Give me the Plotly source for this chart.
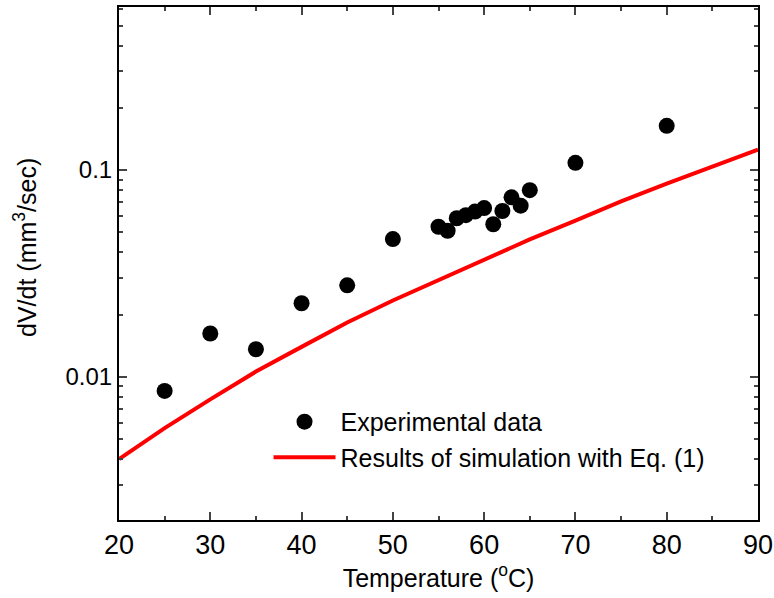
import math
import plotly.graph_objects as go

# Experimental data
exp_T = [25, 30, 35, 40, 45, 50, 55, 56, 57, 58, 59, 60, 61, 62, 63, 64, 65, 70, 80]
exp_rate = [0.00855, 0.0162, 0.0136, 0.0227, 0.0277, 0.0464, 0.0532, 0.0509, 0.0585,
            0.0605, 0.0630, 0.0655, 0.0547, 0.0634, 0.0738, 0.0673, 0.0800, 0.1084, 0.1637]

# Simulation results
sim_T = [20, 25, 30, 35, 40, 45, 50, 55, 60, 65, 70, 75, 80, 85, 90]
sim_rate = [0.0040, 0.00565, 0.00778, 0.0106, 0.01396, 0.0183, 0.0234, 0.0294, 0.0371,
            0.0462, 0.0569, 0.0706, 0.0859, 0.1038, 0.1257]

x_ticks = [20, 30, 40, 50, 60, 70, 80, 90]
y_ticks = [0.01, 0.1]
y_tick_text = ["0.01", "0.1"]

x_title = "Temperature (<sup>o</sup>C)"
y_title = "dV/dt (mm<sup>3</sup>/sec)"

FONT = "Arial, Liberation Sans, sans-serif"

fig = go.Figure()
fig.add_trace(go.Scatter(
    x=exp_T, y=exp_rate, mode="markers", name="Experimental data",
    marker=dict(color="black", size=16, line=dict(width=0)),
))
fig.add_trace(go.Scatter(
    x=sim_T, y=sim_rate, mode="lines", name="Results of simulation with Eq. (1)",
    line=dict(color="#ff0000", width=4),
))

fig.update_layout(
    width=774, height=598,
    margin=dict(l=119, r=16, t=7, b=78, autoexpand=False),
    plot_bgcolor="white", paper_bgcolor="white",
    font=dict(family=FONT, size=22, color="black"),
    showlegend=True,
    legend=dict(x=0.234, y=0.236, xanchor="left", yanchor="top",
                bgcolor="rgba(0,0,0,0)", font=dict(size=25, family=FONT),
                itemwidth=62),
    xaxis=dict(
        range=[20, 90], tickvals=x_ticks, ticks="inside", ticklen=8, tickwidth=2,
        showline=True, linewidth=2, linecolor="black", mirror="ticks",
        showgrid=False, zeroline=False, automargin=False,
        minor=dict(ticks="inside", ticklen=4, tickwidth=2, dtick=5, showgrid=False),
        title=dict(text=x_title, standoff=6, font=dict(size=25)),
        tickfont=dict(size=27),
    ),
    yaxis=dict(
        type="log", range=[math.log10(0.00203), math.log10(0.615)],
        tickvals=y_ticks, ticktext=y_tick_text, ticks="inside", ticklen=8, tickwidth=2,
        showline=True, linewidth=2, linecolor="black", mirror="ticks",
        showgrid=False, zeroline=False, automargin=False,
        minor=dict(ticks="inside", ticklen=4, tickwidth=2, dtick="D1", showgrid=False),
        tickfont=dict(size=24),
    ),
    annotations=[dict(
        text=y_title, textangle=-90, xref="paper", yref="paper",
        x=0, y=(520 - 248) / 513, xanchor="center", yanchor="middle",
        xshift=-94, showarrow=False, font=dict(size=25, family=FONT),
    )],
)

fig.write_html("out.html", config={"displayModeBar": False},
               post_script="document.body.style.margin='0';")
